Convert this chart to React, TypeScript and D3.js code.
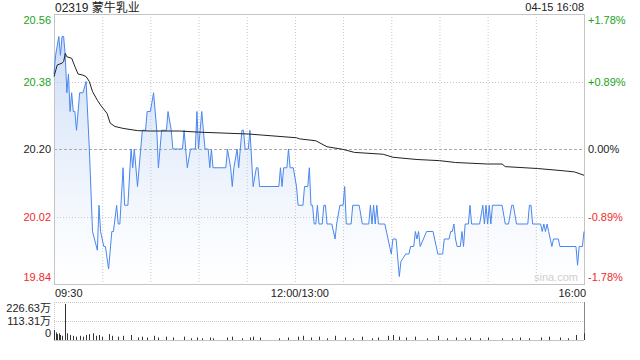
import React from 'react';
import * as d3 from 'd3';

const title = '02319 蒙牛乳业';
const stamp = '04-15 16:08';
const prevClose = 20.2;
const priceTicks = [20.56, 20.38, 20.2, 20.02, 19.84];
const pctTicks = ['+1.78%', '+0.89%', '0.00%', '-0.89%', '-1.78%'];
const timeLabels = ['09:30', '12:00/13:00', '16:00'];
const timeLabelMinutes = [0, 150, 330];
const volTickLabels = ['226.63万', '113.31万', '0'];
const volTickValues = [226.63, 113.31, 0];
const totalMinutes = 330;

// trading-minute offset from 09:30 (lunch break removed)
const priceMinutes = [
  0, 1, 3, 4, 5, 6, 7, 8, 9, 10, 11, 12, 13, 14, 16, 18, 20, 22, 24, 27,
  28, 29, 31, 32, 34, 36, 37, 39, 40, 41, 43, 44, 46, 48, 49, 50, 52, 54, 55, 57,
  58, 60, 62, 64, 65, 67, 70, 71, 73, 74, 80, 81, 83, 85, 88, 89, 90, 92, 94, 96,
  97, 98, 99, 107, 108, 110, 111, 112, 114, 115, 116, 117, 118, 119, 121, 122, 124, 126, 127, 128,
  140, 141, 142, 143, 145, 146, 147, 149, 151, 152, 155, 156, 158, 159, 160, 161, 162, 163, 164, 165,
  167, 168, 169, 170, 173, 175, 176, 178, 180, 181, 182, 185, 186, 190, 192, 196, 197, 198, 199, 200,
  201, 202, 206, 208, 210, 211, 213, 215, 216, 219, 221, 222, 224, 225, 226, 227, 228, 232, 236, 239,
  242, 243, 246, 247, 248, 249, 250, 251, 253, 254, 255, 256, 258, 259, 260, 265, 267, 268, 269, 270,
  271, 272, 273, 279, 281, 283, 285, 286, 288, 295, 296, 297, 298, 303, 304, 305, 306, 307, 308, 310,
  311, 314, 315, 325, 326, 327, 329, 330,
];
const prices = [
  20.4, 20.45, 20.5, 20.45, 20.5, 20.5, 20.45, 20.35, 20.4, 20.3, 20.35, 20.3, 20.3, 20.25, 20.35, 20.35, 20.38, 20.2, 19.98, 19.93,
  20.05, 19.98, 19.94, 19.94, 19.88, 19.98, 19.98, 20.05, 20.0, 20.0, 20.15, 20.05, 20.05, 20.2, 20.15, 20.2, 20.1, 20.2, 20.25, 20.25,
  20.3, 20.3, 20.35, 20.25, 20.15, 20.25, 20.25, 20.3, 20.25, 20.2, 20.2, 20.25, 20.15, 20.2, 20.2, 20.3, 20.2, 20.3, 20.2, 20.2,
  20.15, 20.2, 20.15, 20.15, 20.2, 20.15, 20.1, 20.15, 20.2, 20.15, 20.2, 20.25, 20.25, 20.2, 20.2, 20.25, 20.1, 20.15, 20.15, 20.1,
  20.1, 20.15, 20.1, 20.15, 20.15, 20.2, 20.15, 20.15, 20.1, 20.05, 20.05, 20.1, 20.1, 20.15, 20.05, 20.05, 20.0, 20.0, 20.05, 20.0,
  20.0, 20.05, 20.05, 20.0, 20.0, 19.96, 20.0, 20.05, 20.05, 20.1, 20.0, 20.0, 20.05, 20.05, 20.0, 20.0, 20.05, 20.0, 20.05, 20.0,
  20.05, 20.0, 20.0, 19.96, 19.92, 19.96, 19.96, 19.86, 19.9, 19.92, 19.92, 19.94, 19.94, 19.98, 19.96, 19.98, 19.94, 19.98, 19.98, 19.92,
  19.92, 19.96, 19.96, 19.98, 19.98, 20.0, 19.96, 19.94, 19.94, 19.98, 19.94, 20.0, 20.0, 20.05, 20.0, 20.0, 20.05, 20.0, 20.05, 20.0,
  20.05, 20.0, 20.05, 20.05, 20.0, 20.0, 20.05, 20.05, 20.0, 20.0, 20.05, 20.05, 20.0, 20.0, 19.98, 20.0, 19.98, 20.0, 19.98, 19.94,
  19.96, 19.96, 19.94, 19.94, 19.89, 19.94, 19.94, 19.98,
];

const avgMinutes = [0, 2, 5, 6, 7, 8, 11, 13, 15, 18, 20, 22, 24, 27, 29, 33, 35, 38, 43, 52, 60, 78, 90, 121, 130, 151, 153, 163, 170, 180, 187, 205, 211, 226, 240, 250, 270, 279, 281, 301, 317, 324, 330];
const avgPrices = [20.393, 20.424, 20.429, 20.433, 20.455, 20.446, 20.442, 20.42, 20.4, 20.397, 20.393, 20.38, 20.353, 20.33, 20.317, 20.295, 20.269, 20.26, 20.255, 20.249, 20.248, 20.248, 20.245, 20.24, 20.237, 20.23, 20.227, 20.222, 20.206, 20.199, 20.191, 20.186, 20.178, 20.172, 20.169, 20.164, 20.16, 20.16, 20.153, 20.148, 20.142, 20.139, 20.13];

// volume in 万 shares
const volMinutes = [
  0, 1, 2, 3, 4, 5, 7, 8, 10, 12, 14, 16, 18, 20, 22, 24, 26, 28, 30, 34,
  36, 40, 43, 48, 52, 55, 58, 62, 65, 70, 74, 81, 85, 89, 92, 97, 99, 108, 111, 117,
  122, 124, 128, 140, 146, 152, 155, 160, 165, 170, 175, 181, 186, 192, 198, 202, 208, 211, 215, 219,
  225, 232, 239, 245, 250, 256, 259, 265, 270, 279, 285, 290, 296, 303, 308, 315, 320, 325, 330,
];
const volumes = [
  60, 45, 35, 40, 30, 25, 215, 40, 30, 25, 20, 25, 20, 30, 35, 40, 25, 30, 20, 35,
  25, 20, 25, 30, 15, 20, 15, 25, 15, 20, 15, 20, 10, 15, 10, 15, 10, 15, 20, 10,
  15, 20, 15, 10, 15, 20, 25, 15, 20, 10, 25, 15, 10, 20, 10, 15, 25, 30, 20, 15,
  20, 10, 25, 10, 15, 10, 15, 10, 15, 10, 10, 15, 10, 15, 20, 15, 10, 30, 40,
];

const L = 54, R = 584, T = 14, B = 284;
const VT = 302, VB = 340;
const FONT = '"Liberation Sans", Arial, "Noto Sans CJK SC", sans-serif';
const GREEN = '#1aa31a';
const RED = '#f02a2a';

export default function App() {
  const x = d3.scaleLinear().domain([0, totalMinutes]).range([L, R]);
  const y = d3.scaleLinear().domain([19.84, 20.56]).range([B, T]);
  const yv = d3.scaleLinear().domain([0, 226.63]).range([VB, VT]);

  const pts = priceMinutes.map((m, i) => [m, prices[i]] as [number, number]);
  const avgPts = avgMinutes.map((m, i) => [m, avgPrices[i]] as [number, number]);
  const line = d3.line<[number, number]>().x(d => x(d[0])).y(d => y(d[1]));
  const area = d3.area<[number, number]>().x(d => x(d[0])).y0(B).y1(d => y(d[1]));

  const gridMinutes = d3.range(30, totalMinutes, 30);
  const colorFor = (v: number) => (Math.abs(v - prevClose) < 1e-6 ? '#222' : v > prevClose ? GREEN : RED);
  const labelDy = (i: number, n: number) => (i === 0 ? 10 : i === n - 1 ? -3 : 4);

  return (
    <svg width={640} height={360} style={{ position: 'absolute', left: 0, top: 0, background: '#fff' }} fontFamily={FONT}>
      <defs>
        <linearGradient id="fillg" x1="0" y1="0" x2="0" y2="1">
          <stop offset="0%" stopColor="#c9dbf7" stopOpacity={0.95} />
          <stop offset="100%" stopColor="#ffffff" stopOpacity={0.6} />
        </linearGradient>
      </defs>
      <text x={55} y={12} fontSize={12} fill="#222">{title}</text>
      <text x={584} y={11} fontSize={11} fill="#222" textAnchor="end">{stamp}</text>

      <path d={area(pts) || ''} fill="url(#fillg)" />

      {gridMinutes.map(m => (
        <line key={'v' + m} x1={x(m) + 0.5} x2={x(m) + 0.5} y1={T} y2={B} stroke="#c8c8c8" strokeDasharray="1,2" />
      ))}
      {priceTicks.slice(1, -1).map((p, i) => (
        <line key={'h' + i} x1={L} x2={R} y1={Math.round(y(p)) + 0.5} y2={Math.round(y(p)) + 0.5}
          stroke={p === prevClose ? '#aaa' : '#c8c8c8'} strokeDasharray={p === prevClose ? '3,2' : '1,2'} />
      ))}
      <rect x={L + 0.5} y={T + 0.5} width={R - L} height={B - T} fill="none" stroke="#c4c4c4" />

      <path d={line(pts) || ''} fill="none" stroke="#4a87ee" strokeWidth={1} />
      <path d={line(avgPts) || ''} fill="none" stroke="#222" strokeWidth={1} />

      {priceTicks.map((p, i) => (
        <text key={'pl' + i} x={51} y={y(p) + labelDy(i, priceTicks.length)} fontSize={11} textAnchor="end" fill={colorFor(p)}>
          {p.toFixed(2)}
        </text>
      ))}
      {pctTicks.map((t, i) => (
        <text key={'pr' + i} x={588} y={y(priceTicks[i]) + labelDy(i, pctTicks.length)} fontSize={11} fill={colorFor(priceTicks[i])}>
          {t}
        </text>
      ))}
      <text x={578} y={281} fontSize={11} fill="#cfcfcf" textAnchor="end">sina.com</text>
      {timeLabels.map((t, i) => (
        <text key={'t' + i} x={i === 0 ? L + 1 : i === 2 ? R + 2 : x(timeLabelMinutes[i]) + 5} y={297} fontSize={11} fill="#222"
          textAnchor={i === 0 ? 'start' : i === 2 ? 'end' : 'middle'}>
          {t}
        </text>
      ))}

      {volTickValues.slice(0, 2).map((v, i) => (
        <line key={'vg' + i} x1={L} x2={R} y1={Math.round(yv(v)) + 0.5} y2={Math.round(yv(v)) + 0.5} stroke="#c8c8c8" strokeDasharray="1,1" />
      ))}
      <line x1={L + 0.5} x2={L + 0.5} y1={VT} y2={VB} stroke="#c8c8c8" strokeDasharray="1,1" />
      <line x1={R + 0.5} x2={R + 0.5} y1={VT} y2={VB} stroke="#888" />
      <line x1={L} x2={R} y1={VB + 0.5} y2={VB + 0.5} stroke="#c4c4c4" />
      {volMinutes.map((m, i) => (
        <line key={'vb' + i} x1={Math.round(x(m)) + 0.5} x2={Math.round(x(m)) + 0.5} y1={VB} y2={yv(volumes[i])} stroke="#333" />
      ))}
      {volTickLabels.map((t, i) => (
        <text key={'vl' + i} x={51} y={yv(volTickValues[i]) + labelDy(i, volTickLabels.length)} fontSize={11} textAnchor="end" fill="#222">
          {t}
        </text>
      ))}
    </svg>
  );
}
